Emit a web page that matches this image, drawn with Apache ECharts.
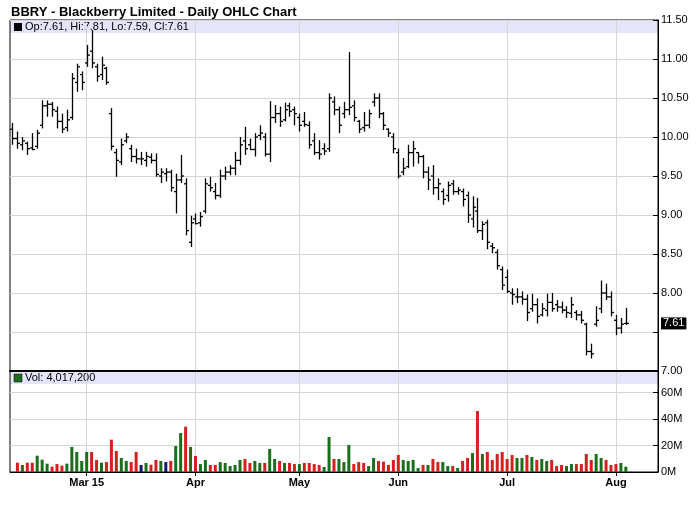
<!DOCTYPE html>
<html><head><meta charset="utf-8">
<script src="https://cdn.jsdelivr.net/npm/echarts@6/dist/echarts.min.js"></script>
<style>html,body{margin:0;padding:0;background:#fff}#c{width:700px;height:512px}</style>
</head><body><div id="c"></div>
<script>
const dates = [
'2015-02-06','2015-02-09','2015-02-10','2015-02-11','2015-02-12','2015-02-13','2015-02-17','2015-02-18','2015-02-19','2015-02-20','2015-02-23','2015-02-24','2015-02-25','2015-02-26','2015-02-27',
'2015-03-02','2015-03-03','2015-03-04','2015-03-05','2015-03-06','2015-03-09','2015-03-10','2015-03-11','2015-03-12','2015-03-13','2015-03-16','2015-03-17','2015-03-18','2015-03-19','2015-03-20','2015-03-23','2015-03-24','2015-03-25','2015-03-26','2015-03-27','2015-03-30','2015-03-31',
'2015-04-01','2015-04-02','2015-04-06','2015-04-07','2015-04-08','2015-04-09','2015-04-10','2015-04-13','2015-04-14','2015-04-15','2015-04-16','2015-04-17','2015-04-20','2015-04-21','2015-04-22','2015-04-23','2015-04-24','2015-04-27','2015-04-28','2015-04-29','2015-04-30',
'2015-05-01','2015-05-04','2015-05-05','2015-05-06','2015-05-07','2015-05-08','2015-05-11','2015-05-12','2015-05-13','2015-05-14','2015-05-15','2015-05-18','2015-05-19','2015-05-20','2015-05-21','2015-05-22','2015-05-26','2015-05-27','2015-05-28','2015-05-29',
'2015-06-01','2015-06-02','2015-06-03','2015-06-04','2015-06-05','2015-06-08','2015-06-09','2015-06-10','2015-06-11','2015-06-12','2015-06-15','2015-06-16','2015-06-17','2015-06-18','2015-06-19','2015-06-22','2015-06-23','2015-06-24','2015-06-25','2015-06-26','2015-06-29','2015-06-30',
'2015-07-01','2015-07-02','2015-07-06','2015-07-07','2015-07-08','2015-07-09','2015-07-10','2015-07-13','2015-07-14','2015-07-15','2015-07-16','2015-07-17','2015-07-20','2015-07-21','2015-07-22','2015-07-23','2015-07-24','2015-07-27','2015-07-28','2015-07-29','2015-07-30','2015-07-31',
'2015-08-03','2015-08-04','2015-08-05'
];
const padCategories = ['p1','p2','p3','p4','p5','p6'];

const opens = [10.10,9.98,9.90,9.92,9.86,9.88,10.15,10.40,10.42,10.33,10.20,10.12,10.25,10.70,10.80,10.95,11.10,10.90,10.80,10.88,
10.30,9.80,9.68,9.95,9.85,9.75,9.72,9.70,9.74,9.70,9.50,9.53,9.55,9.30,9.45,9.40,8.65,8.95,8.90,9.05,
9.38,9.30,9.25,9.50,9.55,9.60,9.70,9.95,9.90,9.84,10.02,10.00,9.78,10.25,10.30,10.22,10.40,10.35,10.25,10.20,
10.15,9.95,9.80,9.85,9.85,10.45,10.35,10.30,10.35,10.40,10.20,10.12,10.15,10.45,10.50,10.30,10.10,10.00,9.80,9.55,
9.62,9.80,9.80,9.75,9.55,9.50,9.35,9.30,9.25,9.40,9.30,9.30,9.25,8.95,9.05,8.80,8.90,8.60,8.52,8.30,
8.20,8.00,7.95,7.95,7.92,7.80,7.85,7.72,7.78,7.88,7.85,7.82,7.78,7.74,7.75,7.72,7.60,7.25,7.60,7.80,
8.00,7.95,7.65,7.55,7.61];
const highs = [10.18,10.07,10.00,9.94,10.05,10.09,10.47,10.47,10.45,10.39,10.30,10.35,10.82,10.94,10.84,11.18,11.37,10.94,11.03,10.90,
10.37,9.85,9.98,10.05,9.90,9.85,9.81,9.81,9.79,9.79,9.60,9.60,9.58,9.53,9.77,9.47,8.99,9.02,9.04,9.47,
9.49,9.41,9.58,9.62,9.64,9.81,10.00,10.13,9.98,10.05,10.15,10.05,10.46,10.41,10.39,10.44,10.44,10.39,10.30,10.32,
10.20,10.05,9.96,9.92,10.56,10.52,10.39,10.45,11.09,10.47,10.22,10.32,10.35,10.56,10.56,10.32,10.11,10.05,9.85,9.73,
9.90,9.95,9.81,9.77,9.62,9.64,9.47,9.34,9.43,9.45,9.36,9.34,9.30,9.24,9.22,8.92,8.94,8.64,8.56,8.34,
8.30,8.06,8.06,8.02,7.98,7.99,7.93,7.87,7.99,8.00,7.91,7.89,7.83,7.95,7.78,7.77,7.62,7.35,7.83,8.16,
8.12,8.02,7.72,7.68,7.81];
const lows = [9.90,9.85,9.83,9.77,9.83,9.85,10.11,10.26,10.26,10.11,10.05,10.07,10.22,10.58,10.60,10.90,10.88,10.71,10.73,10.67,
9.83,9.49,9.64,9.92,9.68,9.66,9.64,9.62,9.66,9.49,9.41,9.43,9.30,9.02,9.41,8.74,8.59,8.88,8.85,9.02,
9.30,9.20,9.22,9.45,9.51,9.51,9.64,9.77,9.83,9.75,9.96,9.75,9.68,10.18,10.13,10.20,10.26,10.15,10.07,10.13,
9.85,9.77,9.71,9.77,9.81,10.28,10.05,10.24,10.28,10.20,10.05,10.07,10.11,10.39,10.24,10.09,10.00,9.79,9.47,9.51,
9.60,9.62,9.66,9.47,9.32,9.26,9.19,9.13,9.17,9.26,9.26,9.11,8.90,8.84,8.77,8.68,8.56,8.51,8.30,8.04,
8.00,7.85,7.87,7.85,7.64,7.76,7.61,7.70,7.70,7.76,7.76,7.74,7.68,7.68,7.65,7.61,7.20,7.16,7.57,7.74,
7.91,7.70,7.46,7.48,7.59];
const closes = [9.98,9.92,9.95,9.85,9.84,10.05,10.40,10.42,10.35,10.20,10.10,10.22,10.75,10.90,10.70,11.05,10.95,10.78,10.92,10.70,
9.88,9.70,9.90,10.00,9.75,9.72,9.72,9.75,9.70,9.52,9.55,9.55,9.35,9.45,9.50,8.80,8.90,8.89,8.98,9.40,
9.35,9.25,9.50,9.55,9.60,9.70,9.90,9.85,9.84,10.00,10.05,9.78,10.25,10.30,10.20,10.35,10.33,10.30,10.15,10.16,
9.90,9.80,9.78,9.82,10.50,10.35,10.15,10.35,10.38,10.25,10.10,10.15,10.30,10.50,10.30,10.15,10.05,9.85,9.50,9.60,
9.80,9.85,9.75,9.55,9.45,9.35,9.40,9.20,9.38,9.30,9.32,9.20,9.00,9.10,8.80,8.88,8.65,8.58,8.35,8.10,
8.02,7.98,7.95,7.92,7.75,7.85,7.70,7.80,7.88,7.80,7.82,7.78,7.75,7.85,7.72,7.65,7.25,7.22,7.65,8.00,
7.95,7.75,7.55,7.60,7.61];
// volume in millions of shares
const volumes = [null,7.0,5.3,7.0,7.0,12.3,9.3,6.3,4.0,6.0,4.8,
6.3,18.9,15.1,8.3,15.1,15.1,9.1,7.0,7.5,24.4,
15.8,10.6,8.3,7.5,15.1,5.3,6.8,5.5,9.1,8.3,
7.5,8.3,19.6,29.4,34.2,18.9,12.1,6.0,9.1,5.3,
5.3,7.5,6.8,4.5,5.3,9.1,9.8,6.8,8.3,6.8,
6.8,17.4,9.8,8.3,6.8,6.8,6.0,6.0,6.8,6.8,
6.0,5.3,3.8,26.4,9.8,9.8,7.5,20.4,6.0,7.5,
6.8,4.5,10.6,8.3,7.8,5.3,9.1,12.8,9.1,8.3,
9.1,3.0,5.3,5.3,9.8,7.5,7.5,4.5,4.5,3.0,
8.3,10.6,14.3,46.0,13.6,15.1,9.1,13.6,15.1,9.8,
12.8,10.6,10.6,12.8,11.3,9.1,9.8,8.3,9.1,4.5,
5.3,4.5,6.0,6.0,6.0,13.6,9.1,13.6,10.6,9.1,
5.3,6.0,6.8,4.0172];
// g = up day, r = down day, n = unchanged
const volDir = ('-rgrrgggrr'+'rgggggrrgr'+'rrggrrngrr'+'gnrggrgrgg'+'rrgggggrrg'+'grggrgrrgr'+'rrrggrgggr'+'rrggrrrrrg'+'gggrgrrggr'+'grrgrgrrrr'+'rrggrgrggr'+'rrggrrrrgg'+'rrrgg').split('');
const monthTickDates = ['2015-03-02','2015-04-01','2015-05-01','2015-06-01','2015-07-01','2015-08-03'];
const monthTickLabels = ['Mar 15','Apr','May','Jun','Jul','Aug'];
const priceTicks = {min:7, max:11.5, step:0.5};
const volTicks = {min:0, max:76.2, step:20};
const lastVolume = 4017200;

const cats = dates.concat(padCategories);
const tickSet = new Set(monthTickDates);
const labelMap = {};
monthTickDates.forEach((d,i)=>labelMap[d]=monthTickLabels[i]);
const tickFn = (idx, val) => tickSet.has(val);
const n = dates.length;
const last = n - 1;
const colorMap = {g:'#1b6e1b', r:'#d61f1f', n:'#16166e', '-':'#1b6e1b'};
const FONT = 'Liberation Sans, Arial, sans-serif';
const gridCol = '#d6d6d6';

const ohlcData = dates.map((d,i)=>[i, opens[i], closes[i], lows[i], highs[i]]);
const volData = volumes.map((v,i)=>({value:v, itemStyle:{color:colorMap[volDir[i]]}}));

const headerText = 'Op:' + opens[last].toFixed(2) + ', Hi:' + highs[last].toFixed(2) + ', Lo:' + lows[last].toFixed(2) + ', Cl:' + closes[last].toFixed(2);
const volText = 'Vol: ' + lastVolume.toLocaleString('en-US');

const chart = echarts.init(document.getElementById('c'), null, {renderer:'canvas'});
chart.setOption({
  animation:false,
  backgroundColor:'#fff',
  title:{text:'BBRY - Blackberry Limited - Daily OHLC Chart', left:6, top:1,
    textStyle:{fontSize:13, fontWeight:'bold', fontFamily:FONT, color:'#000'}},
  grid:[
    {left:10, top:20, width:648, height:351, show:true, backgroundColor:'transparent', borderColor:'#000', borderWidth:1},
    {left:10, top:371, width:648, height:101, show:true, backgroundColor:'transparent', borderColor:'#000', borderWidth:1}
  ],
  xAxis:[
    {type:'category', gridIndex:0, data:cats, boundaryGap:true,
     axisLine:{show:true, lineStyle:{color:'#000', width:2}},
     axisTick:{show:false}, axisLabel:{show:false},
     splitLine:{show:true, interval:tickFn, alignWithLabel:true, lineStyle:{color:gridCol, width:1}}},
    {type:'category', gridIndex:1, data:cats, boundaryGap:true,
     axisLine:{show:true, lineStyle:{color:'#000', width:1}},
     axisTick:{show:true, interval:tickFn, alignWithLabel:true, length:4, lineStyle:{color:'#000'}},
     axisLabel:{show:true, interval:tickFn, formatter:(v)=>labelMap[v]||'', fontSize:11, fontWeight:'bold', fontFamily:FONT, color:'#000', margin:5},
     splitLine:{show:true, interval:tickFn, alignWithLabel:true, lineStyle:{color:gridCol, width:1}}}
  ],
  yAxis:[
    {type:'value', gridIndex:0, position:'right', min:priceTicks.min, max:priceTicks.max, interval:priceTicks.step,
     axisLine:{show:true, lineStyle:{color:'#000'}},
     axisTick:{show:true, inside:true, length:5, lineStyle:{color:'#000'}},
     axisLabel:{formatter:(v)=> Math.abs(v - closes[last]) < 0.2 ? '' : v.toFixed(2), fontSize:11, fontFamily:FONT, color:'#000', margin:3},
     splitLine:{show:true, lineStyle:{color:gridCol}}},
    {type:'value', gridIndex:1, position:'right', min:volTicks.min, max:volTicks.max, interval:volTicks.step,
     axisLine:{show:true, lineStyle:{color:'#000'}},
     axisTick:{show:true, inside:true, length:5, lineStyle:{color:'#000'}},
     axisLabel:{formatter:(v)=>v+'M', fontSize:11, fontFamily:FONT, color:'#000', margin:3, showMaxLabel:false},
     splitLine:{show:true, lineStyle:{color:gridCol}}}
  ],
  graphic:[
    {type:'rect', z:-1, silent:true, shape:{x:10, y:20, width:648, height:13}, style:{fill:'#e4e4fa'}},
    {type:'rect', z:-1, silent:true, shape:{x:10, y:372, width:648, height:12}, style:{fill:'#e4e4fa'}},
    {type:'rect', z:-1, silent:true, shape:{x:14, y:23, width:8, height:8}, style:{fill:'#000'}},
    {type:'text', z:-1, silent:true, style:{x:25, y:27, text:headerText, font:'11px '+FONT, fill:'#000', verticalAlign:'middle'}},
    {type:'rect', z:-1, silent:true, shape:{x:14, y:374, width:8, height:8}, style:{fill:'#1b6e1b', stroke:'#000', lineWidth:0.5}},
    {type:'text', z:-1, silent:true, style:{x:25, y:378, text:volText, font:'11px '+FONT, fill:'#000', verticalAlign:'middle'}}
  ],
  series:[
    {type:'custom', name:'OHLC', xAxisIndex:0, yAxisIndex:0, data:ohlcData,
     encode:{x:0, y:[1,2,3,4]},
     renderItem:function(params, api){
       const i = api.value(0);
       const pO = api.coord([i, api.value(1)]);
       const pC = api.coord([i, api.value(2)]);
       const pL = api.coord([i, api.value(3)]);
       const pH = api.coord([i, api.value(4)]);
       const x = Math.round(pH[0]) + 0.5;
       const tw = 2.5;
       const st = {stroke:'#000', lineWidth:1.3};
       return {type:'group', children:[
         {type:'line', shape:{x1:x, y1:pH[1], x2:x, y2:pL[1]}, style:st},
         {type:'line', shape:{x1:x-tw, y1:pO[1], x2:x, y2:pO[1]}, style:st},
         {type:'line', shape:{x1:x, y1:pC[1], x2:x+tw, y2:pC[1]}, style:st}
       ]};
     }
    },
    {type:'line', name:'Last', xAxisIndex:0, yAxisIndex:0, data:[[dates[last], closes[last]]],
     symbol:'none', showSymbol:false, lineStyle:{width:0, color:'rgba(0,0,0,0)'}, silent:true, clip:false,
     markLine:{silent:true, symbol:'none', lineStyle:{width:0, type:'solid', color:'rgba(0,0,0,0)'}, animation:false,
       label:{show:true, opacity:1, position:'end', distance:3, formatter:closes[last].toFixed(2), backgroundColor:'#000', color:'#fff', padding:[1,2,0,2], fontSize:11, fontFamily:FONT},
       data:[{yAxis:closes[last]}]}
    },
    {type:'bar', name:'Volume', xAxisIndex:1, yAxisIndex:1, data:volData, barWidth:3}
  ]
});
</script></body></html>
